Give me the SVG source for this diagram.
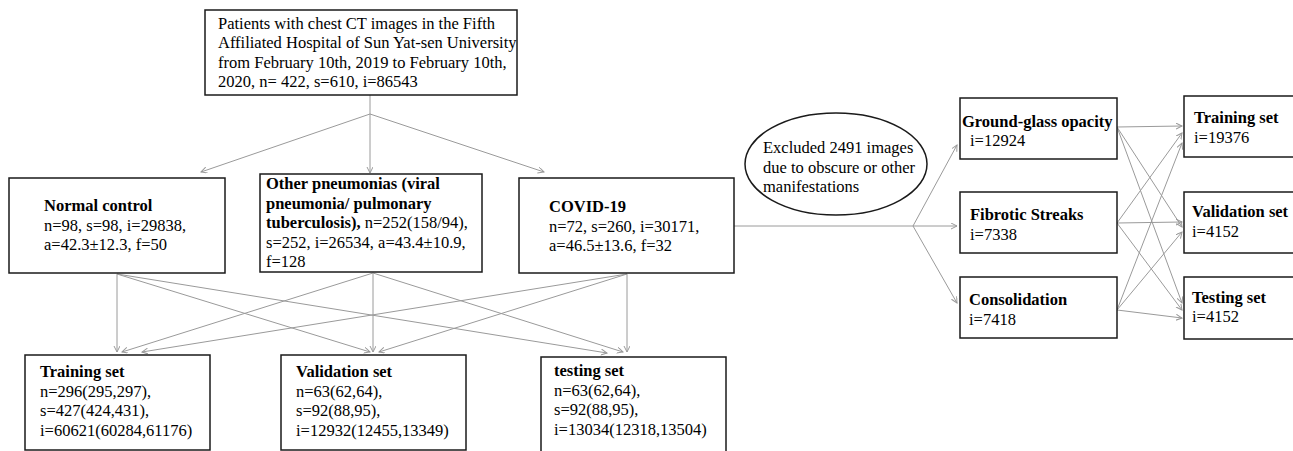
<svg xmlns="http://www.w3.org/2000/svg" width="1293" height="451" viewBox="0 0 1293 451">
<style>
.box{fill:#fff;stroke:#1a1a1a;stroke-width:1.5}
.t{font-family:"Liberation Serif","Times New Roman",serif;font-size:16.5px;fill:#000}
.b{font-weight:bold}
.c{fill:none;stroke:#9a9a9a;stroke-width:1}
.a{marker-end:url(#ah)}
</style>
<defs>
<marker id="ah" markerUnits="userSpaceOnUse" markerWidth="8" markerHeight="8" refX="6" refY="3" orient="auto">
<path d="M0,0 L6,3 L0,6" fill="none" stroke="#9a9a9a" stroke-width="1"/>
</marker>
</defs>
<rect width="1293" height="451" fill="#fff"/>
<g id="connectors">
<line class="c" x1="370" y1="95" x2="370" y2="114"/>
<line class="c a" x1="370" y1="114" x2="201" y2="172"/>
<line class="c a" x1="370" y1="114" x2="370" y2="173"/>
<line class="c a" x1="370" y1="114" x2="544" y2="172"/>
<line class="c a" x1="117" y1="274" x2="117" y2="352"/>
<line class="c a" x1="117" y1="274" x2="370" y2="352"/>
<line class="c a" x1="117" y1="274" x2="607" y2="353"/>
<line class="c a" x1="373" y1="273" x2="122" y2="352"/>
<line class="c a" x1="373" y1="273" x2="373" y2="352"/>
<line class="c a" x1="373" y1="273" x2="623" y2="352"/>
<line class="c a" x1="627" y1="274" x2="142" y2="352"/>
<line class="c a" x1="627" y1="274" x2="379" y2="352"/>
<line class="c a" x1="627" y1="274" x2="627" y2="352"/>
<line class="c" x1="734" y1="226" x2="913" y2="226"/>
<line class="c a" x1="913" y1="226" x2="957" y2="145"/>
<line class="c a" x1="913" y1="226" x2="957" y2="226"/>
<line class="c a" x1="913" y1="226" x2="957" y2="303"/>
<line class="c a" x1="1117" y1="127" x2="1182" y2="126"/>
<line class="c a" x1="1117" y1="127" x2="1182" y2="227"/>
<line class="c a" x1="1117" y1="127" x2="1182" y2="303"/>
<line class="c a" x1="1117" y1="223" x2="1182" y2="133"/>
<line class="c a" x1="1117" y1="223" x2="1182" y2="222"/>
<line class="c a" x1="1117" y1="223" x2="1182" y2="310"/>
<line class="c a" x1="1117" y1="310" x2="1182" y2="143"/>
<line class="c a" x1="1117" y1="310" x2="1182" y2="232"/>
<line class="c a" x1="1117" y1="310" x2="1182" y2="318"/>
</g>
<g id="source">
<rect class="box" x="205" y="10" width="312" height="85"/>
<text class="t" x="218" y="28.5">Patients with chest CT images in the Fifth</text>
<text class="t" x="218" y="48">Affiliated Hospital of Sun Yat-sen University</text>
<text class="t" x="218" y="67.5">from February 10th, 2019 to February 10th,</text>
<text class="t" x="218" y="87">2020, n= 422, s=610, i=86543</text>
</g>
<g id="normal">
<rect class="box" x="9" y="178" width="216" height="95"/>
<text class="t b" x="44" y="211">Normal control</text>
<text class="t" x="44" y="230.5">n=98, s=98, i=29838,</text>
<text class="t" x="44" y="250">a=42.3±12.3, f=50</text>
</g>
<g id="other">
<rect class="box" x="260" y="174" width="222" height="98"/>
<text class="t b" x="266" y="189">Other pneumonias (viral</text>
<text class="t b" x="266" y="208.5">pneumonia/ pulmonary</text>
<text class="t" x="266" y="228"><tspan class="b">tuberculosis),</tspan> n=252(158/94),</text>
<text class="t" x="266" y="247.5">s=252, i=26534, a=43.4±10.9,</text>
<text class="t" x="266" y="267">f=128</text>
</g>
<g id="covid">
<rect class="box" x="519" y="178" width="215" height="95"/>
<text class="t b" x="549" y="212">COVID-19</text>
<text class="t" x="549" y="231.5">n=72, s=260, i=30171,</text>
<text class="t" x="549" y="251">a=46.5±13.6, f=32</text>
</g>
<g id="training">
<rect class="box" x="25" y="355" width="185" height="95"/>
<text class="t b" x="40" y="377">Training set</text>
<text class="t" x="40" y="396.5">n=296(295,297),</text>
<text class="t" x="40" y="416">s=427(424,431),</text>
<text class="t" x="40" y="435.5">i=60621(60284,61176)</text>
</g>
<g id="validation">
<rect class="box" x="281" y="355" width="185" height="95"/>
<text class="t b" x="296" y="377">Validation set</text>
<text class="t" x="296" y="396.5">n=63(62,64),</text>
<text class="t" x="296" y="416">s=92(88,95),</text>
<text class="t" x="296" y="435.5">i=12932(12455,13349)</text>
</g>
<g id="testing">
<rect class="box" x="541" y="357" width="185" height="100"/>
<text class="t b" x="554" y="376">testing set</text>
<text class="t" x="554" y="395.5">n=63(62,64),</text>
<text class="t" x="554" y="415">s=92(88,95),</text>
<text class="t" x="554" y="434.5">i=13034(12318,13504)</text>
</g>
<g id="excluded">
<ellipse cx="836" cy="164" rx="91" ry="51" fill="#fff" stroke="#1a1a1a" stroke-width="1.5"/>
<text class="t" x="763" y="153">Excluded 2491 images</text>
<text class="t" x="763" y="172.5">due to obscure or other</text>
<text class="t" x="763" y="192">manifestations</text>
</g>
<g id="ggo">
<rect class="box" x="960" y="98" width="157" height="61"/>
<text class="t b" x="962" y="127">Ground-glass opacity</text>
<text class="t" x="970" y="146">i=12924</text>
</g>
<g id="fibrotic">
<rect class="box" x="960" y="192" width="157" height="61"/>
<text class="t b" x="970" y="220">Fibrotic Streaks</text>
<text class="t" x="970" y="239.5">i=7338</text>
</g>
<g id="consolidation">
<rect class="box" x="960" y="277" width="157" height="61"/>
<text class="t b" x="969" y="305">Consolidation</text>
<text class="t" x="969" y="324.5">i=7418</text>
</g>
<g id="training2">
<rect class="box" x="1184" y="96" width="120" height="61"/>
<text class="t b" x="1194" y="123">Training set</text>
<text class="t" x="1194" y="143">i=19376</text>
</g>
<g id="validation2">
<rect class="box" x="1184" y="192" width="120" height="61"/>
<text class="t b" x="1192" y="217">Validation set</text>
<text class="t" x="1192" y="237">i=4152</text>
</g>
<g id="testing2">
<rect class="box" x="1184" y="277" width="120" height="62"/>
<text class="t b" x="1192" y="303">Testing set</text>
<text class="t" x="1192" y="322">i=4152</text>
</g>
</svg>
